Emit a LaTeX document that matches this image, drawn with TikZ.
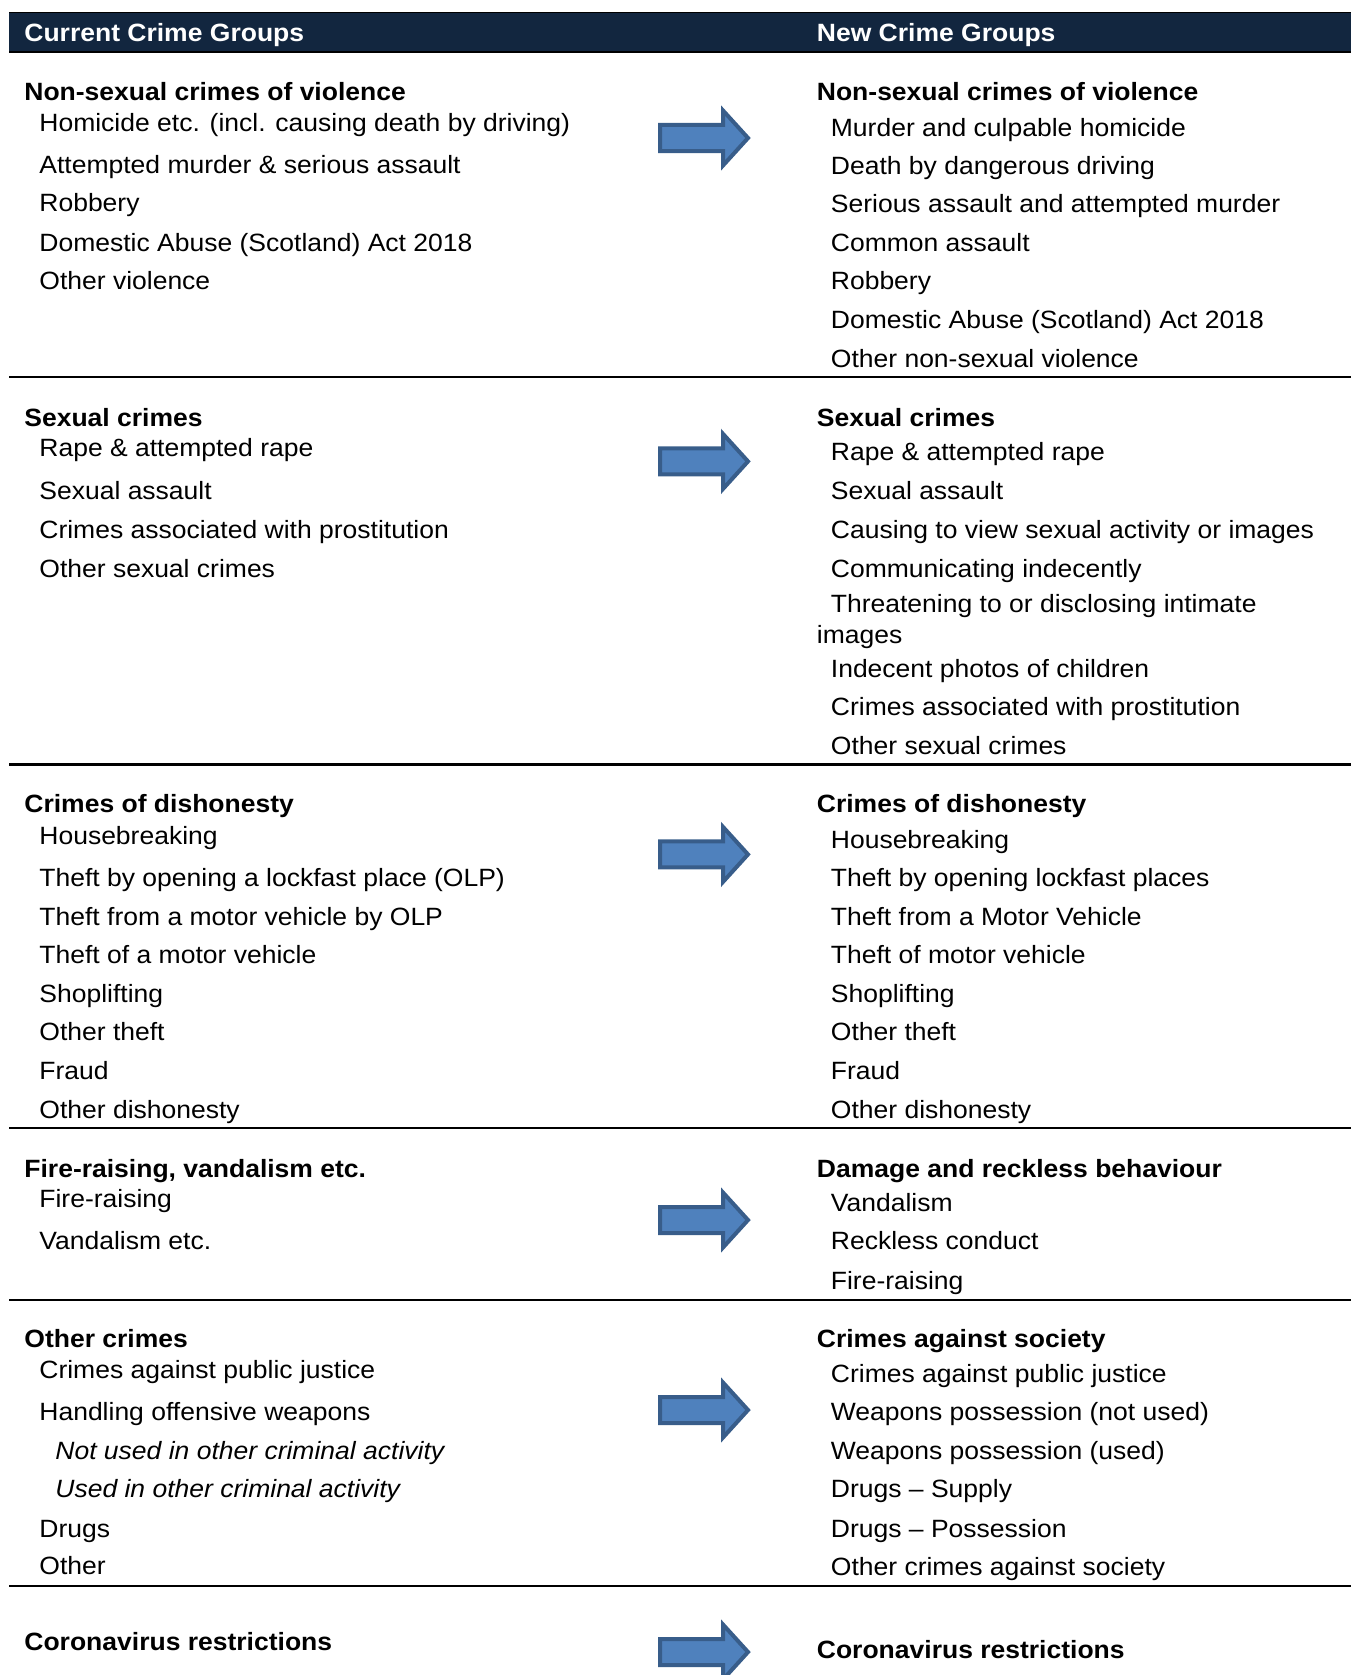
\documentclass[tikz,border=0pt]{standalone}
\usepackage{fontspec}
\setmainfont{Liberation Sans}[FakeStretch=1.06]
\usetikzlibrary{
    positioning
}
\definecolor{hdrnavy}{HTML}{12263F}
\definecolor{arrowfill}{HTML}{4F81BD}
\definecolor{arrowline}{HTML}{385D8A}
\tikzset{
    crimetext/.style={
        anchor=west,
        inner sep=0pt,
        text height=8.95pt,
        text depth=0pt,
        font=\fontsize{12.5}{15}\selectfont
    },
    grouphead/.style={crimetext, font=\fontsize{12.5}{15}\selectfont\bfseries},
    crimeitem/.style={crimetext},
    subitem/.style={crimetext, font=\fontsize{12.5}{15}\selectfont\itshape},
    headtext/.style={grouphead, text=white},
    rule/.style={line width=1.1pt},
    crimearrow/.pic={
        \draw[fill=arrowfill, draw=arrowline, line width=2pt, line join=miter]
            (0,-13) -- (63,-13) -- (63,-27.5) -- (88,0)
            -- (63,27.5) -- (63,13) -- (0,13) -- cycle;
    }
}

\begin{document}
\begin{tikzpicture}[
    x=0.5pt,
    y=-0.5pt
]
    \useasboundingbox (0,0) rectangle (1351,1675);
    \clip (0,0) rectangle (1351,1675);

    % Cabecera
    \fill[hdrnavy] (9,12) rectangle (1351,53);
    \draw[line width=0.5pt] (9,12.5) -- (1351,12.5);
    \draw[line width=1.3pt] (9,52) -- (1351,52);
    \node[headtext] (curhead) at (24,33)    {Current Crime Groups};
    \node[headtext] (newhead) at (816.5,33) {New Crime Groups};

    % Non-sexual crimes of violence
    \node[grouphead] (cur1)  at (24,91.8)  {Non-sexual crimes of violence};
    \node[crimeitem] (cur1a) at (39,123)   {Homicide etc. (incl. causing death by driving)};
    \node[crimeitem] (cur1b) at (39,164.5) {Attempted murder \& serious assault};
    \node[crimeitem] (cur1c) at (39,203)   {Robbery};
    \node[crimeitem] (cur1d) at (39,242.4) {Domestic Abuse (Scotland) Act 2018};
    \node[crimeitem] (cur1e) at (39,281)   {Other violence};

    \node[grouphead] (new1)  at (816.5,91.8)  {Non-sexual crimes of violence};
    \node[crimeitem] (new1a) at (830.5,127.5) {Murder and culpable homicide};
    \node[crimeitem] (new1b) at (830.5,165.5) {Death by dangerous driving};
    \node[crimeitem] (new1c) at (830.5,204)   {Serious assault and attempted murder};
    \node[crimeitem] (new1d) at (830.5,242.4) {Common assault};
    \node[crimeitem] (new1e) at (830.5,281)   {Robbery};
    \node[crimeitem] (new1f) at (830.5,319.3) {Domestic Abuse (Scotland) Act 2018};
    \node[crimeitem] (new1g) at (830.5,358.8) {Other non-sexual violence};

    \draw[rule] (9,377) -- (1351,377);

    % Sexual crimes
    \node[grouphead] (cur2)  at (24,417.6) {Sexual crimes};
    \node[crimeitem] (cur2a) at (39,447.5) {Rape \& attempted rape};
    \node[crimeitem] (cur2b) at (39,490.2) {Sexual assault};
    \node[crimeitem] (cur2c) at (39,529.7) {Crimes associated with prostitution};
    \node[crimeitem] (cur2d) at (39,568.2) {Other sexual crimes};

    \node[grouphead] (new2)  at (816.5,417.6) {Sexual crimes};
    \node[crimeitem] (new2a) at (830.5,451.8) {Rape \& attempted rape};
    \node[crimeitem] (new2b) at (830.5,490.2) {Sexual assault};
    \node[crimeitem] (new2c) at (830.5,529.7) {Causing to view sexual activity or images};
    \node[crimeitem] (new2d) at (830.5,568.2) {Communicating indecently};
    \node[crimeitem] (new2e) at (830.5,603.4) {Threatening to or disclosing intimate};
    \node[crimeitem] (new2f) at (816.5,634.4) {images};
    \node[crimeitem] (new2g) at (830.5,668.6) {Indecent photos of children};
    \node[crimeitem] (new2h) at (830.5,707)   {Crimes associated with prostitution};
    \node[crimeitem] (new2i) at (830.5,745.5) {Other sexual crimes};

    \draw[rule] (9,764.5) -- (1351,764.5);

    % Crimes of dishonesty
    \node[grouphead] (cur3)  at (24,803.1)  {Crimes of dishonesty};
    \node[crimeitem] (cur3a) at (39,835.2)  {Housebreaking};
    \node[crimeitem] (cur3b) at (39,877.9)  {Theft by opening a lockfast place (OLP)};
    \node[crimeitem] (cur3c) at (39,916.3)  {Theft from a motor vehicle by OLP};
    \node[crimeitem] (cur3d) at (39,954.8)  {Theft of a motor vehicle};
    \node[crimeitem] (cur3e) at (39,993.2)  {Shoplifting};
    \node[crimeitem] (cur3f) at (39,1031.7) {Other theft};
    \node[crimeitem] (cur3g) at (39,1070.1) {Fraud};
    \node[crimeitem] (cur3h) at (39,1109.7) {Other dishonesty};

    \node[grouphead] (new3)  at (816.5,803.1)  {Crimes of dishonesty};
    \node[crimeitem] (new3a) at (830.5,839.4)  {Housebreaking};
    \node[crimeitem] (new3b) at (830.5,877.9)  {Theft by opening lockfast places};
    \node[crimeitem] (new3c) at (830.5,916.3)  {Theft from a Motor Vehicle};
    \node[crimeitem] (new3d) at (830.5,954.8)  {Theft of motor vehicle};
    \node[crimeitem] (new3e) at (830.5,993.2)  {Shoplifting};
    \node[crimeitem] (new3f) at (830.5,1031.7) {Other theft};
    \node[crimeitem] (new3g) at (830.5,1070.1) {Fraud};
    \node[crimeitem] (new3h) at (830.5,1109.7) {Other dishonesty};

    \draw[rule] (9,1127.8) -- (1351,1127.8);

    % Fire-raising, vandalism etc.
    \node[grouphead] (cur4)  at (24,1168.4) {Fire-raising, vandalism etc.};
    \node[crimeitem] (cur4a) at (39,1198.3) {Fire-raising};
    \node[crimeitem] (cur4b) at (39,1241)   {Vandalism etc.};

    \node[grouphead] (new4)  at (816.5,1168.4) {Damage and reckless behaviour};
    \node[crimeitem] (new4a) at (830.5,1202.6) {Vandalism};
    \node[crimeitem] (new4b) at (830.5,1241)   {Reckless conduct};
    \node[crimeitem] (new4c) at (830.5,1280.5) {Fire-raising};

    \draw[rule] (9,1299.8) -- (1351,1299.8);

    % Other crimes
    \node[grouphead] (cur5)  at (24,1338.2) {Other crimes};
    \node[crimeitem] (cur5a) at (39,1369.2) {Crimes against public justice};
    \node[crimeitem] (cur5b) at (39,1412)   {Handling offensive weapons};
    \node[subitem]   (cur5c) at (55,1451)   {Not used in other criminal activity};
    \node[subitem]   (cur5d) at (55,1489)   {Used in other criminal activity};
    \node[crimeitem] (cur5e) at (39,1529)   {Drugs};
    \node[crimeitem] (cur5f) at (39,1566)   {Other};

    \node[grouphead] (new5)  at (816.5,1338.2) {Crimes against society};
    \node[crimeitem] (new5a) at (830.5,1373.4) {Crimes against public justice};
    \node[crimeitem] (new5b) at (830.5,1412)   {Weapons possession (not used)};
    \node[crimeitem] (new5c) at (830.5,1451)   {Weapons possession (used)};
    \node[crimeitem] (new5d) at (830.5,1489)   {Drugs – Supply};
    \node[crimeitem] (new5e) at (830.5,1529)   {Drugs – Possession};
    \node[crimeitem] (new5f) at (830.5,1567)   {Other crimes against society};

    \draw[rule] (9,1586) -- (1351,1586);

    % Coronavirus restrictions
    \node[grouphead] (cur6) at (24,1642)    {Coronavirus restrictions};
    \node[grouphead] (new6) at (816.5,1650) {Coronavirus restrictions};

    % Flechas
    \pic (arr1) at (660,138)    {crimearrow};
    \pic (arr2) at (660,461.4)  {crimearrow};
    \pic (arr3) at (660,854.4)  {crimearrow};
    \pic (arr4) at (660,1220)   {crimearrow};
    \pic (arr5) at (660,1410)   {crimearrow};
    \pic (arr6) at (660,1652)   {crimearrow};

\end{tikzpicture}
\end{document}
